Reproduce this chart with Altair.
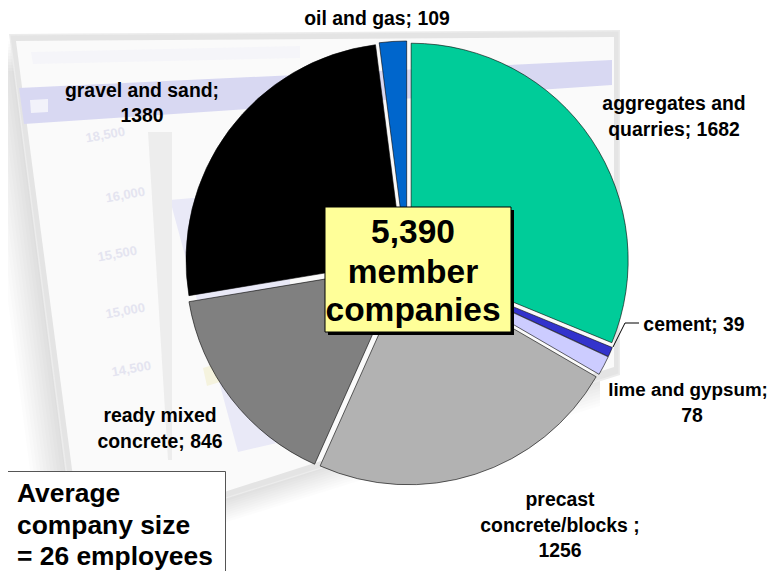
import altair as alt
import numpy as np
import pandas as pd

categories = ["aggregates and quarries", "cement", "lime and gypsum", "precast concrete/blocks",
              "ready mixed concrete", "gravel and sand", "oil and gas"]
values = [1682, 39, 78, 1256, 846, 1380, 109]
colors = ["#00CC99", "#3333CC", "#CCCCFF", "#B2B2B2", "#808080", "#000000", "#0066CC"]
headline = ["5,390", "member", "companies"]
note = ["Average", "company size", "= 26 employees"]
blurred_ticks = ["18,500", "16,000", "15,500", "15,000", "14,500"]

M = 8
FONT = "Liberation Sans"
CX, CY, R, EXPLODE = 407 - M, 263 - M, 217, 5


def poly(tl, tr, br, bl, color, opacity=1.0):
    xs = sorted({tl[0], tr[0], br[0], bl[0]})
    top = np.interp(xs, [tl[0], tr[0]], [tl[1], tr[1]])
    if bl[0] <= tl[0]:
        bot = np.interp(xs, [bl[0], br[0]], [bl[1], br[1]])
    else:
        bot = np.interp(xs, [tl[0], bl[0], br[0]], [tl[1], bl[1], br[1]])
    df = pd.DataFrame({"x": np.array(xs) - M, "y": top - M, "y2": bot - M})
    return alt.Chart(df).mark_area(color=color, opacity=opacity, interpolate="linear").encode(
        x=alt.X("x:Q", scale=None, axis=None),
        y=alt.Y("y:Q", scale=None, axis=None),
        y2="y2:Q",
    )


def text(s, x, y, size, align="center", color="#000000", angle=0, bold=True, opacity=1.0):
    return alt.Chart(alt.Data(values=[{}])).mark_text(
        font=FONT, fontSize=size, fontWeight="bold" if bold else "normal",
        align=align, baseline="alphabetic", color=color, angle=angle, opacity=opacity,
    ).encode(x=alt.value(x - M), y=alt.value(y - M), text=alt.value(s))


def rect(x0, y0, x1, y1, fill, stroke=None, sw=1):
    kw = {"stroke": stroke, "strokeWidth": sw} if stroke else {}
    return alt.Chart(alt.Data(values=[{}])).mark_rect(fill=fill, **kw).encode(
        x=alt.value(x0 - M), x2=alt.value(x1 - M), y=alt.value(y0 - M), y2=alt.value(y1 - M)
    )


layers = []
# soft shadow of the blurred window behind the pie
for k in range(34, 1, -3):
    layers.append(poly((12 - k, 37 + k), (600, 33 + k), (600, 372 + k), (78 - k, 545 + k), "#000000", 0.012))
for k, c in [(3, "#ECECEC"), (1.5, "#E4E4E4")]:
    layers.append(poly((12 - k, 37 - k), (617 + k, 33 - k), (617 + k, 372 + k), (78 - k, 543 + k), c))
layers.append(poly((16, 41), (614, 37), (614, 367), (81, 538), "#FAFAFA"))
layers.append(poly((31, 52), (300, 46), (300, 58), (33, 64), "#F5F5F9"))
layers.append(poly((19, 88), (612, 60), (612, 85), (24, 124), "#D8D8F2"))
layers.append(poly((30, 100), (48, 99), (48, 112), (31, 113), "#F2F2FA"))
layers.append(poly((170, 200), (215, 196), (290, 440), (238, 452), "#E9E9F7"))
layers.append(poly((148, 132), (152, 132), (172, 460), (168, 460), "#EDEDED"))
layers.append(poly((203, 368), (222, 362), (226, 380), (207, 386), "#F5F3DE"))
for s, x, y in zip(blurred_ticks, [106, 126, 118, 126, 132], [139, 199, 258, 315, 373]):
    layers.append(text(s, x, y, 13, color="#E4E4F0", angle=350))

# pie
pie_df = pd.DataFrame({"category": categories, "value": values, "order": range(len(values))})
pie = (
    alt.Chart(pie_df)
    .transform_joinaggregate(total="sum(value)")
    .transform_window(cum="sum(value)", sort=[alt.SortField("order")], frame=[None, 0])
    .transform_calculate(
        a0="(datum.cum - datum.value) / datum.total * 2 * PI",
        a1="datum.cum / datum.total * 2 * PI",
    )
    .transform_calculate(mid="(datum.a0 + datum.a1) / 2")
    .transform_calculate(
        px=f"{CX} + {EXPLODE} * sin(datum.mid)",
        py=f"{CY} - {EXPLODE} * cos(datum.mid)",
    )
    .mark_arc(outerRadius=R, stroke="#000000", strokeWidth=0.6)
    .encode(
        theta=alt.Theta("a0:Q", scale=None, stack=None),
        theta2="a1:Q",
        x=alt.X("px:Q", scale=None, axis=None),
        y=alt.Y("py:Q", scale=None, axis=None),
        color=alt.Color("category:N", scale=alt.Scale(domain=categories, range=colors), legend=None),
    )
)
layers.append(pie)

# leader for the cement label
leader = pd.DataFrame({"x": [613 - M, 625 - M, 639 - M], "y": [347 - M, 323 - M, 323 - M], "o": [0, 1, 2]})
layers.append(alt.Chart(leader).mark_line(color="#000000", strokeWidth=1).encode(
    x=alt.X("x:Q", scale=None, axis=None), y=alt.Y("y:Q", scale=None, axis=None), order="o:O"))

LS = 19.4
for s, x, y in [
    ("oil and gas; 109", 377, 25),
    ("gravel and sand;", 142, 97),
    ("1380", 142, 122),
    ("aggregates and", 674, 110),
    ("quarries; 1682", 674, 136),
    ("cement; 39", 694, 331),
    ("78", 692, 422),
    ("ready mixed", 160, 422),
    ("concrete; 846", 160, 448),
    ("precast", 560, 506),
    ("concrete/blocks ;", 560, 532),
    ("1256", 560, 557),
]:
    layers.append(text(s, x, y, LS))
layers.append(text("lime and gypsum;", 688, 396, 18.8))

# centre callout
layers.append(rect(328, 210, 514, 335, "#000000"))
layers.append(rect(325, 207, 511, 332, "#FFFF99", "#000000", 1))
for s, y in zip(headline, [243, 283, 321]):
    layers.append(text(s, 413, y, 33.5))

# note box
layers.append(rect(6.5, 471.5, 225.5, 575, "#FFFFFF", "#555555", 1))
for s, y in zip(note, [502, 534, 565]):
    layers.append(text(s, 17, y, 26.4, align="left"))

chart = alt.layer(*layers).properties(
    width=762, height=563, padding=0, background="#FFFFFF",
    autosize=alt.AutoSizeParams(type="none"),
).configure_view(stroke=None)

chart.save("out.html", embed_options={"renderer": "svg", "actions": False})
